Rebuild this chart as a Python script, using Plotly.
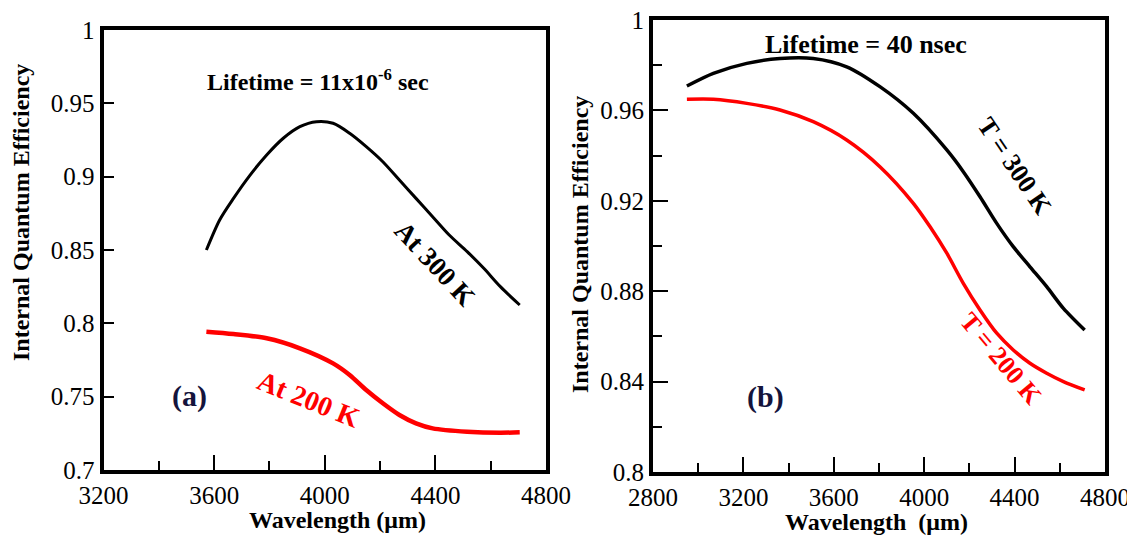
import plotly.graph_objects as go
from plotly.subplots import make_subplots

# ---- data (a) lifetime 11 us ----
wl_a_300 = [3572, 3620, 3670, 3730, 3790, 3850, 3910, 3970, 4030, 4090, 4150, 4210, 4270, 4330, 4390, 4450, 4515, 4575, 4635, 4705]
iqe_a_300 = [0.850, 0.8705, 0.8852, 0.9011, 0.9148, 0.9262, 0.9341, 0.9375, 0.9364, 0.9296, 0.9205, 0.9102, 0.8977, 0.8852, 0.8727, 0.8602, 0.8489, 0.8375, 0.825, 0.8125]
wl_a_200 = [3572, 3670, 3790, 3910, 4030, 4090, 4150, 4210, 4270, 4330, 4390, 4515, 4635, 4705]
iqe_a_200 = [0.7943, 0.7927, 0.7898, 0.783, 0.7727, 0.7648, 0.7545, 0.7455, 0.7375, 0.7318, 0.7284, 0.7261, 0.7254, 0.7257]

# ---- data (b) lifetime 40 ns ----
wl_b_300 = [2950, 3067, 3215, 3362, 3509, 3657, 3804, 3952, 4100, 4173, 4247, 4321, 4394, 4468, 4542, 4616, 4710]
iqe_b_300 = [0.9708, 0.9764, 0.9808, 0.9830, 0.9830, 0.9793, 0.9705, 0.9587, 0.9425, 0.9329, 0.9218, 0.9100, 0.8997, 0.8908, 0.8820, 0.8724, 0.8628]
wl_b_200 = [2950, 3067, 3215, 3362, 3509, 3657, 3804, 3952, 4026, 4100, 4173, 4247, 4321, 4394, 4468, 4542, 4616, 4710]
iqe_b_200 = [0.9649, 0.9649, 0.9631, 0.9602, 0.9550, 0.9469, 0.9351, 0.9189, 0.9085, 0.8968, 0.8835, 0.8717, 0.8614, 0.8540, 0.8481, 0.8437, 0.8400, 0.8363]

xticks_a = [3200, 3600, 4000, 4400, 4800]
yticks_a = [0.7, 0.75, 0.8, 0.85, 0.9, 0.95, 1.0]
yticklabels_a = ["0.7", "0.75", "0.8", "0.85", "0.9", "0.95", "1"]
xticks_b = [2800, 3200, 3600, 4000, 4400, 4800]
yticks_b = [0.8, 0.84, 0.88, 0.92, 0.96, 1.0]
yticklabels_b = ["0.8", "0.84", "0.88", "0.92", "0.96", "1"]

FONT = "Liberation Serif, Times New Roman, serif"
OFF = 8                      # default page body margin
W, H = 1135 - OFF, 538 - OFF  # figure size so it ends at the window edge


def fx(px):
    return (px - OFF) / W


def fy(py):
    return 1 - (py - OFF) / H


fig = make_subplots(rows=1, cols=2)


def line(color, width):
    return dict(color=color, width=width, shape="spline", smoothing=0.8)


fig.add_trace(go.Scatter(x=wl_a_300, y=iqe_a_300, mode="lines", line=line("black", 3), showlegend=False), row=1, col=1)
fig.add_trace(go.Scatter(x=wl_a_200, y=iqe_a_200, mode="lines", line=line("#ff0000", 4.5), showlegend=False), row=1, col=1)
fig.add_trace(go.Scatter(x=wl_b_300, y=iqe_b_300, mode="lines", line=line("black", 3.5), showlegend=False), row=1, col=2)
fig.add_trace(go.Scatter(x=wl_b_200, y=iqe_b_200, mode="lines", line=line("#ff0000", 3.5), showlegend=False), row=1, col=2)

tickfont = dict(family=FONT, size=25, color="black")
axis_common = dict(showline=True, linecolor="black", linewidth=4, mirror=True, ticks="inside",
                   tickcolor="black", tickwidth=2, showgrid=False, zeroline=False, tickfont=tickfont,
                   automargin=False, ticklabeloverflow="allow")

fig.update_xaxes(axis_common)
fig.update_yaxes(axis_common)

minor_x = dict(dtick=200, ticks="inside", ticklen=9, tickwidth=2, tickcolor="black")

fig.update_layout(
    font=dict(family=FONT, color="black"),
    xaxis=dict(domain=[fx(103.5), fx(546)], range=[3200, 4800], tickvals=xticks_a,
               ticktext=[str(v) for v in xticks_a], ticklen=15, minor=minor_x, tickfont=tickfont),
    yaxis=dict(domain=[fy(470), fy(30)], range=[0.7, 1.0], tickvals=yticks_a,
               ticktext=yticklabels_a, ticklen=10, tickfont=tickfont),
    xaxis2=dict(domain=[fx(653), fx(1105)], range=[2800, 4800], tickvals=xticks_b,
                ticktext=[str(v) for v in xticks_b], ticklen=15, minor=minor_x, tickfont=tickfont),
    yaxis2=dict(domain=[fy(472), fy(20)], range=[0.8, 1.0], tickvals=yticks_b,
                ticktext=yticklabels_b, ticklen=15, tickfont=tickfont,
                minor=dict(dtick=0.02, ticks="inside", ticklen=9, tickwidth=2, tickcolor="black")),
    width=W, height=H, margin=dict(l=0, r=0, t=0, b=0, pad=0, autoexpand=False),
    paper_bgcolor="white", plot_bgcolor="white",
)


def ann(text, x, y, size=21, color="black", angle=0, bold=True):
    t = f"<b>{text}</b>" if bold else text
    fig.add_annotation(text=t, x=fx(x), y=fy(y), xref="paper", yref="paper",
                       showarrow=False, textangle=angle, xanchor="center", yanchor="middle",
                       font=dict(family=FONT, size=size, color=color))


# axis titles
ann("Wavelength (μm)", 337, 520, size=24)
ann("Internal Quantum Efficiency", 21, 213, size=24, angle=-90)
ann("Wavelength  (μm)", 877, 522, size=24)
ann("Internal Quantum Efficiency", 580, 245, size=24, angle=-90)

# in-plot labels
ann("Lifetime = 11x10<sup>-6</sup> sec", 318, 80, size=24)
ann("At 300 K", 435, 264, size=27, angle=47)
ann("At 200 K", 309, 399, size=28, color="#ff0000", angle=22)
ann("(a)", 189, 396, size=30, color="#14143c")
ann("Lifetime = 40 nsec", 866, 45, size=26)
ann("T = 300 K", 1014, 166, size=26, angle=56)
ann("T = 200 K", 1001, 358, size=26, color="#ff0000", angle=50)
ann("(b)", 765, 397, size=30, color="#14143c")

fig.write_html("out.html")
